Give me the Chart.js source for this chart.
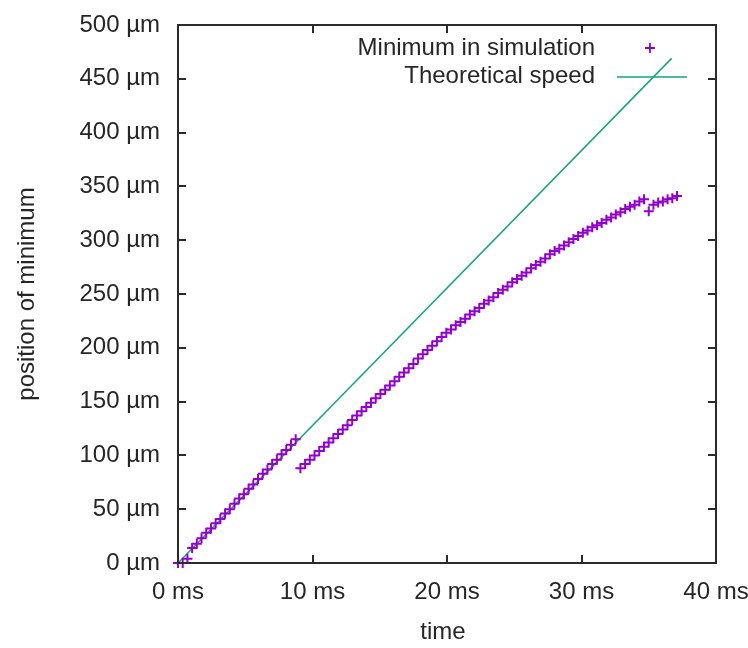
<!DOCTYPE html>
<html>
<head>
<meta charset="utf-8">
<script src="https://cdn.jsdelivr.net/npm/chart.js@4/dist/chart.umd.min.js"></script>
<style>
html,body{margin:0;padding:0;background:#fff;}
#wrap{width:748px;height:648px;}
</style>
</head>
<body>
<div id="wrap"><canvas id="c" width="748" height="648"></canvas></div>
<script>
// ---- data ----
const seriesNames = ["Minimum in simulation", "Theoretical speed"];
const xTickLabels = ["0 ms", "10 ms", "20 ms", "30 ms", "40 ms"];
const yTickLabels = ["0 µm","50 µm","100 µm","150 µm","200 µm","250 µm","300 µm","350 µm","400 µm","450 µm","500 µm"];
const xTitle = "time";
const yTitle = "position of minimum";

// simulation: time in ms
const simTime = [
  0.00,0.35,0.70,1.05,1.40,1.75,2.10,2.45,2.80,3.15,3.50,3.85,4.20,4.55,4.90,5.25,5.60,5.95,6.30,6.65,7.00,7.35,7.70,8.05,8.40,8.75,
  9.10,9.45,9.80,10.15,10.50,10.85,11.20,11.55,11.90,12.25,12.60,12.95,13.30,13.65,14.00,14.35,14.70,15.05,15.40,15.75,16.10,16.45,16.80,17.15,17.50,17.85,18.20,18.55,18.90,19.25,19.60,19.95,
  20.30,20.65,21.00,21.35,21.70,22.05,22.40,22.75,23.10,23.45,23.80,24.15,24.50,24.85,25.20,25.55,25.90,26.25,26.60,26.95,27.30,27.65,28.00,
  28.35,28.70,29.05,29.40,29.75,30.10,30.45,30.80,31.15,31.50,31.85,32.20,32.55,32.90,33.25,33.60,33.95,34.30,34.65,
  35.00,35.35,35.70,36.05,36.40,36.75,37.10
];
// simulation: position in µm
const simPos = [
  0,0,4,14,18,23,28,32,37,41,46,50,55,60,64,69,73,78,83,87,92,96,101,105,110,115,
  88,92,96,100,104,108,112,116,120,124,128,133,137,141,145,149,153,157,161,165,169,173,177,181,185,190,194,198,202,206,210,214,
  217,221,224,227,231,234,237,241,244,247,251,254,257,261,264,267,270,274,277,280,283,287,290,
  292,295,298,301,304,307,309,312,314,316,319,321,324,326,329,331,333,336,338,
  327,333,335,336,338,339,341
];
// theoretical speed line
const theoryTime = [0, 36.7];
const theoryPos = [0, 469];

const purple = "rgb(148,0,211)";
const green = "rgb(20,165,125)";
const textColor = "#262626";
const FONT = "'Liberation Sans', Arial, sans-serif";
const FS = 24;

const simData = simTime.map((t, i) => ({x: t, y: simPos[i]}));
const theoryData = theoryTime.map((t, i) => ({x: t, y: theoryPos[i]}));

// frame, inward ticks, titles and gnuplot-style legend
const decor = {
  id: "decor",
  afterDraw(chart) {
    const ctx = chart.ctx;
    const a = chart.chartArea;
    const xs = chart.scales.x, ys = chart.scales.y;
    ctx.save();
    ctx.strokeStyle = "#2a2a2a";
    ctx.lineWidth = 2;
    ctx.strokeRect(a.left, a.top, a.right - a.left, a.bottom - a.top);
    const tl = 8;
    ctx.beginPath();
    xs.ticks.forEach(t => {
      const px = Math.round(xs.getPixelForValue(t.value));
      ctx.moveTo(px, a.bottom); ctx.lineTo(px, a.bottom - tl);
      ctx.moveTo(px, a.top); ctx.lineTo(px, a.top + tl);
    });
    ys.ticks.forEach(t => {
      const py = Math.round(ys.getPixelForValue(t.value));
      ctx.moveTo(a.left, py); ctx.lineTo(a.left + tl, py);
      ctx.moveTo(a.right, py); ctx.lineTo(a.right - tl, py);
    });
    ctx.stroke();

    // axis titles
    ctx.fillStyle = textColor;
    ctx.font = FS + "px " + FONT;
    ctx.textAlign = "center";
    ctx.textBaseline = "middle";
    ctx.fillText(xTitle, (a.left + a.right) / 2 - 4, 632);
    ctx.save();
    ctx.translate(27, (a.top + a.bottom) / 2);
    ctx.rotate(-Math.PI / 2);
    ctx.fillText(yTitle, 0, 0);
    ctx.restore();

    // legend (text right-aligned, sample on the right)
    ctx.textAlign = "right";
    ctx.fillText(seriesNames[0], 595, 48);
    ctx.fillText(seriesNames[1], 595, 76);
    ctx.strokeStyle = purple;
    ctx.lineWidth = 1.8;
    ctx.beginPath();
    ctx.moveTo(645, 48); ctx.lineTo(655, 48);
    ctx.moveTo(650, 43); ctx.lineTo(650, 53);
    ctx.stroke();
    ctx.strokeStyle = green;
    ctx.lineWidth = 1.5;
    ctx.beginPath();
    ctx.moveTo(617, 77); ctx.lineTo(687, 77);
    ctx.stroke();
    ctx.restore();
  }
};

new Chart(document.getElementById("c"), {
  type: "scatter",
  data: {
    datasets: [
      {
        label: seriesNames[0],
        data: simData,
        showLine: false,
        pointStyle: "cross",
        pointRadius: 5,
        pointHoverRadius: 5,
        borderColor: purple,
        backgroundColor: purple,
        pointBorderWidth: 2,
        clip: false,
        order: 1
      },
      {
        label: seriesNames[1],
        data: theoryData,
        showLine: true,
        pointRadius: 0,
        borderColor: green,
        borderWidth: 1.5,
        fill: false,
        order: 2
      }
    ]
  },
  options: {
    responsive: false,
    animation: false,
    events: [],
    layout: { padding: { left: 0, right: 32, top: 25, bottom: 0 } },
    plugins: { legend: { display: false }, tooltip: { enabled: false } },
    scales: {
      x: {
        type: "linear",
        min: 0, max: 40,
        afterBuildTicks: s => { s.ticks = xTickLabels.map((_, i) => ({value: i * 10})); },
        ticks: {
          callback: (v, i) => xTickLabels[i],
          color: textColor,
          font: { family: FONT, size: FS },
          padding: 15,
          maxRotation: 0,
          autoSkip: false
        },
        grid: { display: false, drawTicks: false },
        border: { display: false },
        afterFit: s => { s.height = 85; s.paddingLeft = 0; s.paddingRight = 0; }
      },
      y: {
        type: "linear",
        min: 0, max: 500,
        afterBuildTicks: s => { s.ticks = yTickLabels.map((_, i) => ({value: i * 50})); },
        ticks: {
          callback: (v, i) => yTickLabels[i],
          color: textColor,
          font: { family: FONT, size: FS },
          padding: 18,
          autoSkip: false
        },
        grid: { display: false, drawTicks: false },
        border: { display: false },
        afterFit: s => { s.width = 178; s.paddingTop = 0; s.paddingBottom = 0; }
      }
    }
  },
  plugins: [decor]
});
</script>
</body>
</html>
